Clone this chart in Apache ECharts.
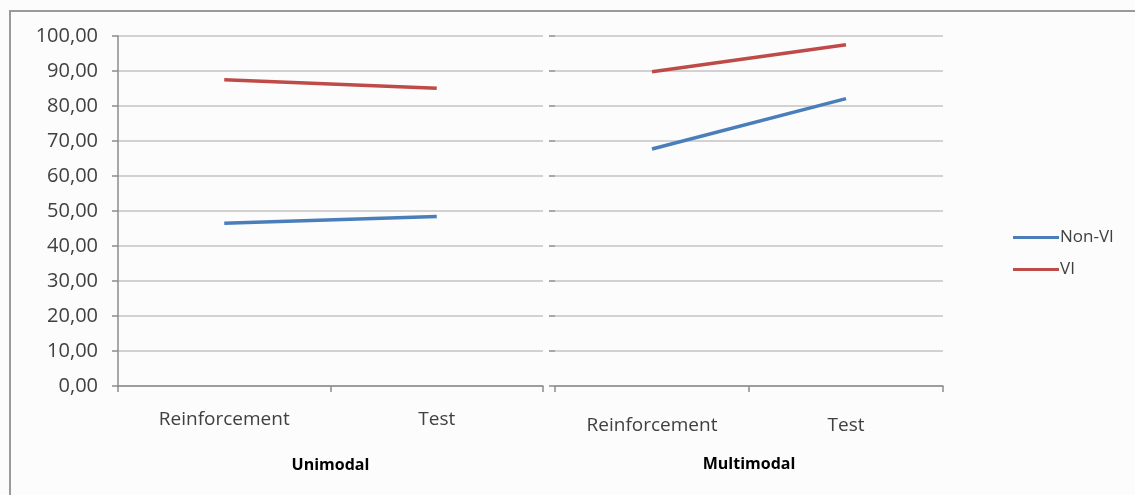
<!DOCTYPE html>
<html>
<head>
<meta charset="utf-8">
<script src="https://cdn.jsdelivr.net/npm/echarts@6/dist/echarts.min.js"></script>
<style>html,body{margin:0;padding:0;background:#fcfcfc;}#c{width:1135px;height:495px;}</style>
</head>
<body>
<div id="c"></div>
<script>
const categories = ['Reinforcement', 'Test'];
const panels = ['Unimodal', 'Multimodal'];
const seriesNames = ['Non-VI', 'VI'];
const nonVI_uni = [46.5, 48.4];
const vi_uni = [87.5, 85.1];
const nonVI_multi = [67.7, 82.1];
const vi_multi = [89.8, 97.5];
const yTicks = [0, 10, 20, 30, 40, 50, 60, 70, 80, 90, 100];

const colors = {'Non-VI': '#4a7ebb', 'VI': '#be4b48'};
const font = '"Open Sans", sans-serif';
const chart = echarts.init(document.getElementById('c'));
const fmt = v => v.toFixed(2).replace('.', ',');

function xAxis(i, labelMargin, nameGap) {
  return {
    type: 'category', gridIndex: i, data: categories, boundaryGap: true,
    axisLine: {lineStyle: {color: '#8c8c8c', width: 1.5}},
    axisTick: {show: true, length: 6, inside: false, alignWithLabel: false, lineStyle: {color: '#8c8c8c', width: 1.5}},
    axisLabel: {color: '#404040', fontSize: 19, fontFamily: font, margin: labelMargin},
    name: panels[i], nameLocation: 'middle', nameGap: nameGap,
    nameTextStyle: {color: '#000', fontSize: 16, fontWeight: 'bold', fontFamily: font}
  };
}
function yAxis(i, showLabels) {
  return {
    type: 'value', gridIndex: i, min: yTicks[0], max: yTicks[yTicks.length - 1], interval: yTicks[1] - yTicks[0],
    axisLine: {show: showLabels, lineStyle: {color: '#8c8c8c', width: 1.5}},
    axisTick: {show: true, length: 6, lineStyle: {color: '#8c8c8c', width: 1.5}},
    splitLine: {lineStyle: {color: '#c4c4c4', width: 1.5}},
    axisLabel: {show: showLabels, color: '#404040', fontSize: 20, fontFamily: font, margin: 20, formatter: fmt}
  };
}
function line(name, data, i) {
  return {
    name: name, type: 'line', xAxisIndex: i, yAxisIndex: i, data: data,
    symbol: 'none', lineStyle: {color: colors[name], width: 3.5}, itemStyle: {color: colors[name]}
  };
}

chart.setOption({
  backgroundColor: '#fcfcfc',
  animation: false,
  graphic: [{type: 'rect', shape: {x: 10, y: 11, width: 1140, height: 500},
    style: {fill: 'none', stroke: '#9a9a9a', lineWidth: 2}, z: -1}],
  grid: [
    {left: 118, top: 36, width: 425, height: 350},
    {left: 555, top: 36, width: 388, height: 350}
  ],
  xAxis: [xAxis(0, 24, 71), xAxis(1, 30, 70)],
  yAxis: [yAxis(0, true), yAxis(1, false)],
  legend: {
    orient: 'vertical', left: 1008, top: 224, itemGap: 15,
    itemWidth: 46, itemHeight: 3, icon: 'rect',
    textStyle: {color: '#404040', fontSize: 17, fontFamily: font, padding: [0, 0, 0, -4]},
    data: seriesNames
  },
  series: [
    line('Non-VI', nonVI_uni, 0), line('VI', vi_uni, 0),
    line('Non-VI', nonVI_multi, 1), line('VI', vi_multi, 1)
  ]
});
</script>
</body>
</html>
